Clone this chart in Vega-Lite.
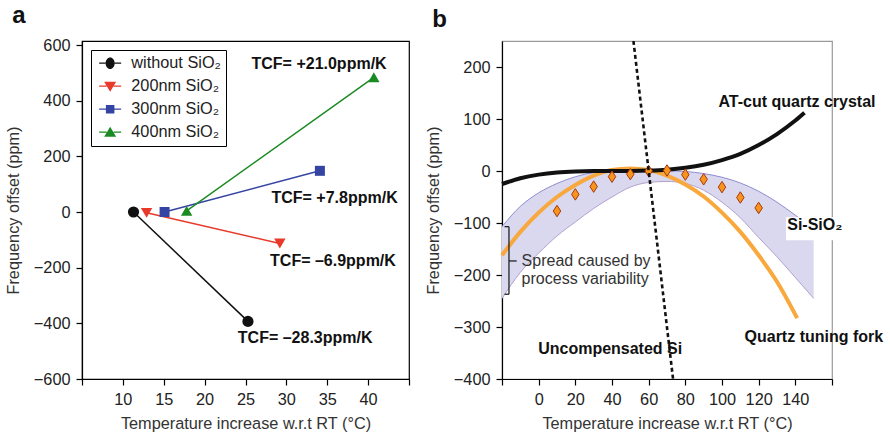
{
  "$schema": "https://vega.github.io/schema/vega-lite/v6.json",
  "padding": {"left": 4, "top": 3, "right": 0, "bottom": 0},
  "background": "white",
  "spacing": 13,
  "datasets": {
    "seriesA": [
      {"series": "without SiO₂", "x": 11.3, "y": 0},
      {"series": "without SiO₂", "x": 25.3, "y": -393},
      {"series": "200nm SiO₂", "x": 12.9, "y": -3},
      {"series": "200nm SiO₂", "x": 29.2, "y": -113},
      {"series": "300nm SiO₂", "x": 15.1, "y": 0},
      {"series": "300nm SiO₂", "x": 34.1, "y": 148},
      {"series": "400nm SiO₂", "x": 17.8, "y": 4},
      {"series": "400nm SiO₂", "x": 40.7, "y": 484}
    ],
    "labelsA": [
      {"x": 34.0, "y": 530, "label": "TCF= +21.0ppm/K"},
      {"x": 35.9, "y": 52, "label": "TCF= +7.8ppm/K"},
      {"x": 35.7, "y": -176, "label": "TCF= –6.9ppm/K"},
      {"x": 32.3, "y": -451, "label": "TCF= –28.3ppm/K"}
    ],
    "band": [
      {"x": -20, "y": -245, "y2": -107},
      {"x": -10, "y": -195, "y2": -68},
      {"x": 0, "y": -158, "y2": -42},
      {"x": 10, "y": -125, "y2": -24},
      {"x": 20, "y": -98, "y2": -11},
      {"x": 30, "y": -72, "y2": -3},
      {"x": 40, "y": -50, "y2": 0},
      {"x": 50, "y": -31, "y2": 0},
      {"x": 60, "y": -22, "y2": 0},
      {"x": 70, "y": -20, "y2": 0},
      {"x": 80, "y": -24, "y2": -1},
      {"x": 90, "y": -37, "y2": -5},
      {"x": 100, "y": -60, "y2": -12},
      {"x": 110, "y": -90, "y2": -23},
      {"x": 120, "y": -128, "y2": -39},
      {"x": 130, "y": -165, "y2": -60},
      {"x": 140, "y": -205, "y2": -85},
      {"x": 150, "y": -245, "y2": -112}
    ],
    "atcut": [
      {"x": -20, "y": -25}, {"x": -10, "y": -14}, {"x": 0, "y": -7},
      {"x": 10, "y": -2.8}, {"x": 20, "y": -0.8}, {"x": 30, "y": -0.1},
      {"x": 40, "y": 0}, {"x": 50, "y": 0.1}, {"x": 60, "y": 0.8},
      {"x": 70, "y": 2.6}, {"x": 80, "y": 6.2}, {"x": 90, "y": 12},
      {"x": 100, "y": 21}, {"x": 110, "y": 33}, {"x": 120, "y": 50},
      {"x": 130, "y": 71}, {"x": 140, "y": 97}, {"x": 145, "y": 112}
    ],
    "fork": [
      {"x": -20, "y": -162}, {"x": -10, "y": -117}, {"x": 0, "y": -80},
      {"x": 10, "y": -50}, {"x": 20, "y": -27}, {"x": 30, "y": -9},
      {"x": 40, "y": 2}, {"x": 50, "y": 5}, {"x": 60, "y": 2},
      {"x": 70, "y": -9}, {"x": 80, "y": -26}, {"x": 90, "y": -49},
      {"x": 100, "y": -80}, {"x": 110, "y": -117}, {"x": 120, "y": -162},
      {"x": 130, "y": -213}, {"x": 141, "y": -283}
    ],
    "si": [
      {"x": 51.7, "y": 250},
      {"x": 73.3, "y": -400}
    ],
    "diamonds": [
      {"x": 10, "y": -77}, {"x": 20, "y": -45}, {"x": 30, "y": -30},
      {"x": 40, "y": -11}, {"x": 50, "y": -6}, {"x": 60, "y": 0},
      {"x": 70, "y": 1}, {"x": 80, "y": -7}, {"x": 90, "y": -16},
      {"x": 100, "y": -31}, {"x": 110, "y": -51}, {"x": 120, "y": -71}
    ],
    "bracket": [
      {"x": -16.2, "x2": -16.2, "y": -107, "y2": -237},
      {"x": -18.6, "x2": -16.2, "y": -107, "y2": -107},
      {"x": -18.6, "x2": -16.2, "y": -237, "y2": -237},
      {"x": -16.2, "x2": -12, "y": -173, "y2": -173}
    ],
    "boxB": [
      {"x": 134.9, "x2": 166, "y": -89, "y2": -133}
    ],
    "labelsB": [
      {"x": 140.9, "y": 133, "label": "AT-cut quartz crystal"},
      {"x": 150.1, "y": -320, "label": "Quartz tuning fork"},
      {"x": 39.0, "y": -342, "label": "Uncompensated Si"},
      {"x": 150.6, "y": -104, "label": "Si-SiO₂"}
    ],
    "spread": [
      {"x": -9.3, "y": -172.5, "label": "Spread caused by\nprocess variability"}
    ]
  },
  "hconcat": [
    {
      "width": 327,
      "height": 338,
      "title": {"text": "a", "offset": 9, "dx": 7},
      "view": {"stroke": "#000", "strokeWidth": 1.2},
      "encoding": {
        "x": {"field": "x", "type": "quantitative",
          "scale": {"domain": [5, 45], "nice": false, "zero": false},
          "axis": {"title": "Temperature increase w.r.t RT (°C)", "values": [5, 10, 15, 20, 25, 30, 35, 40, 45],
            "labelExpr": "datum.value == 5 || datum.value == 45 ? '' : datum.label"}},
        "y": {"field": "y", "type": "quantitative",
          "scale": {"domain": [-600, 614.4], "nice": false, "zero": false},
          "axis": {"title": "Frequency offset (ppm)", "values": [-600, -400, -200, 0, 200, 400, 600]}}
      },
      "layer": [
        {
          "data": {"name": "seriesA"},
          "mark": {"type": "point", "filled": true, "size": 100, "opacity": 0},
          "encoding": {
            "color": {"field": "series", "type": "nominal",
              "scale": {"domain": ["without SiO₂", "200nm SiO₂", "300nm SiO₂", "400nm SiO₂"],
                "range": ["#111111", "#e8392b", "#3444a2", "#1a8a22"]},
              "legend": {
                "title": null, "orient": "top-left", "offset": 9,
                "strokeColor": "#000", "fillColor": "white", "padding": 5,
                "labelFontSize": 16.3, "labelColor": "#222", "labelLimit": 300,
                "symbolSize": 100, "symbolOffset": 6, "labelOffset": 13, "rowPadding": 6,
                "symbolOpacity": 1, "symbolStrokeWidth": 0
              }},
            "shape": {"field": "series", "type": "nominal",
              "scale": {"domain": ["without SiO₂", "200nm SiO₂", "300nm SiO₂", "400nm SiO₂"],
                "range": [
                  "M-2.2,-0.13L-0.88,-0.13L-0.88,0.13L-2.2,0.13ZM0.88,-0.13L2.2,-0.13L2.2,0.13L0.88,0.13ZM-0.9,0A0.9,1.15,0,1,0,0.9,0A0.9,1.15,0,1,0,-0.9,0Z",
                  "M-2.2,-0.13L-0.7,-0.13L-0.7,0.13L-2.2,0.13ZM0.7,-0.13L2.2,-0.13L2.2,0.13L0.7,0.13ZM-1.2,-0.9L1.2,-0.9L0,1.1Z",
                  "M-2.2,-0.13L-0.85,-0.13L-0.85,0.13L-2.2,0.13ZM0.85,-0.13L2.2,-0.13L2.2,0.13L0.85,0.13ZM-0.85,-0.85L0.85,-0.85L0.85,0.85L-0.85,0.85Z",
                  "M-2.2,-0.13L-0.7,-0.13L-0.7,0.13L-2.2,0.13ZM0.7,-0.13L2.2,-0.13L2.2,0.13L0.7,0.13ZM0,-1.1L1.2,0.9L-1.2,0.9Z"
                ]},
              "legend": {
                "title": null, "orient": "top-left", "offset": 9,
                "strokeColor": "#000", "fillColor": "white", "padding": 5,
                "labelFontSize": 16.3, "labelColor": "#222", "labelLimit": 300,
                "symbolSize": 100, "symbolOffset": 6, "labelOffset": 13, "rowPadding": 6,
                "symbolOpacity": 1, "symbolStrokeWidth": 0
              }}
          }
        },
        {
          "data": {"name": "seriesA"},
          "mark": {"type": "line", "strokeWidth": 1.5},
          "encoding": {
            "color": {"field": "series", "type": "nominal"},
            "detail": {"field": "series"}
          }
        },
        {
          "data": {"name": "seriesA"},
          "transform": [{"filter": "datum.series === 'without SiO₂'"}],
          "mark": {"type": "point", "shape": "circle", "filled": true, "size": 125, "opacity": 1},
          "encoding": {"color": {"field": "series", "type": "nominal"}}
        },
        {
          "data": {"name": "seriesA"},
          "transform": [{"filter": "datum.series === '200nm SiO₂'"}],
          "mark": {"type": "point", "shape": "triangle-down", "filled": true, "size": 130, "opacity": 1},
          "encoding": {"color": {"field": "series", "type": "nominal"}}
        },
        {
          "data": {"name": "seriesA"},
          "transform": [{"filter": "datum.series === '300nm SiO₂'"}],
          "mark": {"type": "point", "shape": "square", "filled": true, "size": 100, "opacity": 1},
          "encoding": {"color": {"field": "series", "type": "nominal"}}
        },
        {
          "data": {"name": "seriesA"},
          "transform": [{"filter": "datum.series === '400nm SiO₂'"}],
          "mark": {"type": "point", "shape": "triangle-up", "filled": true, "size": 130, "opacity": 1},
          "encoding": {"color": {"field": "series", "type": "nominal"}}
        },
        {
          "data": {"name": "labelsA"},
          "mark": {"type": "text", "fontSize": 16, "fontWeight": "bold", "color": "#111", "align": "center", "baseline": "middle"},
          "encoding": {"text": {"field": "label"}}
        }
      ]
    },
    {
      "width": 330,
      "height": 338,
      "title": {"text": "b", "offset": 9, "dx": 7},
      "view": {"stroke": "#9a9a9a", "strokeWidth": 1.2},
      "encoding": {
        "x": {"field": "x", "type": "quantitative",
          "scale": {"domain": [-20, 160], "nice": false, "zero": false},
          "axis": {"title": "Temperature increase w.r.t RT (°C)", "values": [-20, 0, 20, 40, 60, 80, 100, 120, 140, 160],
            "labelExpr": "datum.value == -20 || datum.value == 160 ? '' : datum.label"}},
        "y": {"field": "y", "type": "quantitative",
          "scale": {"domain": [-400, 250], "nice": false, "zero": false},
          "axis": {"title": "Frequency offset (ppm)", "values": [-400, -300, -200, -100, 0, 100, 200]}}
      },
      "layer": [
        {
          "data": {"name": "band"},
          "mark": {"type": "area", "color": "#d9d8ef", "interpolate": "monotone", "opacity": 1},
          "encoding": {"y2": {"field": "y2"}}
        },
        {
          "data": {"name": "band"},
          "mark": {"type": "line", "color": "#b4a0cf", "strokeWidth": 1, "interpolate": "monotone"}
        },
        {
          "data": {"name": "band"},
          "mark": {"type": "line", "color": "#8e8dd0", "strokeWidth": 1, "interpolate": "monotone"},
          "encoding": {
            "y": {"field": "y2", "type": "quantitative",
              "scale": {"domain": [-400, 250], "nice": false, "zero": false},
              "axis": {"title": "Frequency offset (ppm)", "values": [-400, -300, -200, -100, 0, 100, 200]}}
          }
        },
        {
          "data": {"values": [{}]},
          "mark": {"type": "rule", "color": "#000", "strokeWidth": 1.2},
          "encoding": {"x": {"datum": -20}, "x2": {"datum": 160}, "y": {"datum": 0}}
        },
        {
          "data": {"name": "fork"},
          "mark": {"type": "line", "color": "#f8a83c", "strokeWidth": 4, "interpolate": "monotone"}
        },
        {
          "data": {"name": "atcut"},
          "mark": {"type": "line", "color": "#111", "strokeWidth": 4, "interpolate": "monotone"}
        },
        {
          "data": {"name": "diamonds"},
          "mark": {"type": "point", "shape": "M0,-1L0.65,0L0,1L-0.65,0Z", "size": 132, "filled": true, "fill": "#f7941d", "stroke": "#a8380a", "strokeWidth": 1, "opacity": 1}
        },
        {
          "data": {"name": "si"},
          "mark": {"type": "line", "color": "#111", "strokeWidth": 2.6, "strokeDash": [4, 3], "clip": true}
        },
        {
          "data": {"name": "bracket"},
          "mark": {"type": "rule", "color": "#222", "strokeWidth": 1.3},
          "encoding": {"x2": {"field": "x2"}, "y2": {"field": "y2"}}
        },
        {
          "data": {"name": "boxB"},
          "mark": {"type": "rect", "color": "white", "opacity": 1},
          "encoding": {"x2": {"field": "x2"}, "y2": {"field": "y2"}}
        },
        {
          "data": {"name": "labelsB"},
          "mark": {"type": "text", "fontSize": 16, "fontWeight": "bold", "color": "#111", "align": "center", "baseline": "middle"},
          "encoding": {"text": {"field": "label"}}
        },
        {
          "data": {"name": "spread"},
          "mark": {"type": "text", "fontSize": 16, "color": "#333", "align": "left", "baseline": "middle", "lineBreak": "\n", "lineHeight": 18.5},
          "encoding": {"text": {"field": "label"}}
        }
      ]
    }
  ],
  "config": {
    "font": "Liberation Sans",
    "axis": {"grid": false, "domainColor": "#000", "domainWidth": 1.2, "tickColor": "#000", "tickWidth": 1.2, "tickSize": 6,
      "labelFontSize": 16.3, "labelColor": "#222", "labelPadding": 6,
      "titleFontSize": 16.3, "titleFontWeight": "normal", "titleColor": "#333"},
    "axisX": {"titlePadding": 8},
    "axisY": {"titlePadding": 12},
    "title": {"fontSize": 24, "fontWeight": "bold", "color": "#111", "anchor": "start", "frame": "bounds"}
  }
}
